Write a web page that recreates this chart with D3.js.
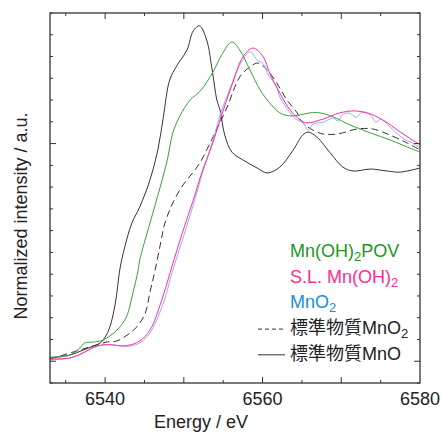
<!DOCTYPE html>
<html>
<head>
<meta charset="utf-8">
<script src="https://cdn.jsdelivr.net/npm/d3@7"></script>
<style>
  body { margin: 0; background: #fff; }
  svg text { font-family: "Liberation Sans", Arial, "Noto Sans CJK JP", sans-serif; }
</style>
</head>
<body>
<div id="chart"></div>
<script>
// 标准物质 MnO (实线)
var stdMnOE = [6533.0, 6535.5, 6537.2, 6538.5, 6539.4, 6540.0, 6540.6, 6541.3, 6541.9, 6542.5, 6543.4, 6544.4, 6545.7, 6546.7, 6547.4, 6548.2, 6549.1, 6550.4, 6551.2, 6552.0, 6552.9, 6553.6, 6554.2, 6554.6, 6555.2, 6556.1, 6557.5, 6559.3, 6560.6, 6562.2, 6563.9, 6565.1, 6565.8, 6566.9, 6568.6, 6570.2, 6571.5, 6573.7, 6575.8, 6577.5, 6580.0];
var stdMnOI = [0.015, 0.028, 0.051, 0.070, 0.084, 0.111, 0.157, 0.267, 0.428, 0.525, 0.635, 0.709, 0.833, 0.971, 1.123, 1.292, 1.357, 1.430, 1.518, 1.541, 1.476, 1.338, 1.200, 1.154, 1.039, 0.961, 0.925, 0.888, 0.865, 0.892, 0.971, 1.039, 1.053, 1.030, 0.957, 0.892, 0.874, 0.883, 0.874, 0.869, 0.888];

// 标准物质 MnO2 (虚线)
var stdMnO2E = [6533.0, 6537.2, 6538.5, 6540.2, 6541.5, 6542.8, 6544.0, 6545.1, 6545.7, 6546.3, 6547.0, 6547.6, 6548.6, 6549.9, 6551.2, 6552.1, 6552.9, 6553.7, 6555.5, 6557.1, 6558.4, 6559.4, 6560.6, 6561.8, 6563.1, 6564.4, 6565.1, 6566.4, 6567.7, 6569.5, 6572.0, 6574.0, 6576.2, 6578.4, 6580.0];
var stdMnO2I = [0.010, 0.056, 0.070, 0.088, 0.093, 0.120, 0.157, 0.221, 0.318, 0.410, 0.534, 0.635, 0.727, 0.810, 0.869, 0.915, 0.971, 1.030, 1.168, 1.306, 1.352, 1.370, 1.338, 1.278, 1.200, 1.141, 1.095, 1.062, 1.044, 1.044, 1.067, 1.067, 1.039, 1.002, 0.971];

// MnO2 (浅蓝)
var mno2E = [6533.0, 6535.5, 6537.2, 6538.5, 6539.7, 6541.0, 6542.1, 6543.2, 6544.4, 6545.7, 6547.4, 6548.6, 6549.9, 6551.2, 6552.4, 6553.6, 6554.6, 6555.9, 6557.1, 6558.4, 6559.3, 6560.1, 6560.7, 6561.2, 6561.8, 6562.2, 6563.5, 6564.4, 6565.1, 6565.8, 6566.4, 6567.7, 6569.0, 6569.6, 6570.2, 6571.1, 6571.9, 6572.6, 6573.7, 6574.4, 6575.0, 6576.2, 6577.8, 6579.0, 6580.0];
var mno2I = [0.006, 0.015, 0.038, 0.061, 0.075, 0.075, 0.070, 0.070, 0.084, 0.130, 0.267, 0.419, 0.566, 0.718, 0.869, 1.003, 1.131, 1.256, 1.361, 1.421, 1.384, 1.366, 1.315, 1.292, 1.260, 1.214, 1.141, 1.108, 1.098, 1.062, 1.090, 1.098, 1.117, 1.103, 1.135, 1.139, 1.121, 1.144, 1.131, 1.098, 1.112, 1.076, 1.025, 1.003, 0.980];

// Mn(OH)2POV (绿)
var povE = [6533.0, 6535.5, 6536.8, 6537.4, 6538.5, 6539.7, 6541.5, 6542.7, 6543.5, 6544.2, 6544.4, 6545.7, 6547.0, 6547.9, 6548.6, 6549.5, 6550.8, 6552.1, 6553.7, 6554.8, 6556.1, 6557.1, 6558.4, 6559.7, 6560.9, 6562.2, 6563.5, 6564.8, 6566.0, 6567.3, 6569.0, 6571.1, 6573.7, 6576.2, 6578.4, 6580.0];
var povI = [0.019, 0.028, 0.061, 0.084, 0.088, 0.097, 0.143, 0.203, 0.309, 0.419, 0.465, 0.635, 0.801, 0.925, 1.049, 1.127, 1.200, 1.242, 1.329, 1.407, 1.467, 1.430, 1.338, 1.246, 1.187, 1.141, 1.127, 1.132, 1.141, 1.141, 1.122, 1.086, 1.049, 1.017, 0.984, 0.961];

// S.L. Mn(OH)2 (粉)
var slE = [6533.0, 6535.5, 6537.2, 6538.5, 6539.7, 6541.0, 6542.1, 6543.2, 6544.4, 6545.7, 6547.2, 6548.5, 6549.8, 6551.2, 6552.4, 6553.6, 6554.6, 6556.2, 6557.5, 6558.8, 6560.1, 6560.9, 6562.2, 6563.5, 6564.8, 6565.6, 6567.7, 6569.8, 6571.5, 6573.3, 6575.3, 6577.5, 6580.0];
var slI = [0.010, 0.015, 0.038, 0.065, 0.075, 0.075, 0.070, 0.075, 0.093, 0.143, 0.281, 0.437, 0.589, 0.741, 0.879, 0.994, 1.108, 1.278, 1.398, 1.439, 1.398, 1.324, 1.232, 1.154, 1.108, 1.095, 1.113, 1.141, 1.150, 1.141, 1.108, 1.053, 0.994];

var xLabelTicks = [6540, 6560, 6580];

var widthx = 442;//画布宽度
var heighty = 433;//画布高度
var margin = {top: 13, right: 22, bottom: 50, left: 50},
    width = widthx - margin.left - margin.right,
    height = heighty - margin.top - margin.bottom;

var x = d3.scaleLinear().domain([6533, 6580]).range([0, width]);
var y = d3.scaleLinear().domain([-0.1, 1.6]).range([height, 0]);

var svg = d3.select("#chart")
    .append("svg")
    .attr("width", widthx)
    .attr("height", heighty)
    .append("g")
    .attr("transform", "translate(" + margin.left + "," + margin.top + ")");

svg.append("clipPath").attr("id", "clip")
    .append("rect").attr("width", width).attr("height", height);

function zip(es, is) {
    return es.map(function(e, i) { return [e, is[i]]; });
}

var line = d3.line()
    .x(function(d) { return x(d[0]); })
    .y(function(d) { return y(d[1]); })
    .curve(d3.curveCatmullRom.alpha(0.5));

var series = [
    {data: zip(stdMnOE, stdMnOI), color: "#333", dash: null, w: 1},
    {data: zip(stdMnO2E, stdMnO2I), color: "#333", dash: "7,4", w: 1},
    {data: zip(mno2E, mno2I), color: "#a0a8ff", dash: null, w: 1},
    {data: zip(povE, povI), color: "#3aa03a", dash: null, w: 1},
    {data: zip(slE, slI), color: "#ff2d9a", dash: null, w: 1}
];

var plot = svg.append("g").attr("clip-path", "url(#clip)");
series.forEach(function(s) {
    plot.append("path")
        .datum(s.data)
        .attr("fill", "none")
        .attr("stroke", s.color)
        .attr("stroke-width", s.w)
        .attr("stroke-dasharray", s.dash)
        .attr("d", line);
});

// 刻度 (向内)
var xt = d3.range(6535, 6580, 5);
var yt = d3.range(-0.1, 1.601, 0.1).map(function(v) { return Math.round(v * 10) / 10; });
var ticks = svg.append("g").attr("stroke", "#333").attr("stroke-width", 1);
xt.forEach(function(v) {
    var len = (v % 10 === 0) ? 6 : 3;
    ticks.append("line").attr("x1", x(v)).attr("x2", x(v)).attr("y1", height).attr("y2", height - len);
    ticks.append("line").attr("x1", x(v)).attr("x2", x(v)).attr("y1", 0).attr("y2", len);
});
yt.forEach(function(v) {
    var len = (v === 0 || v === 1) ? 6 : 3;
    ticks.append("line").attr("x1", 0).attr("x2", len).attr("y1", y(v)).attr("y2", y(v));
    ticks.append("line").attr("x1", width).attr("x2", width - len).attr("y1", y(v)).attr("y2", y(v));
});

svg.append("rect")
    .attr("width", width).attr("height", height)
    .attr("fill", "none").attr("stroke", "#333").attr("stroke-width", 1.3);

svg.selectAll(".xlab")
    .data(xLabelTicks)
    .enter().append("text")
    .attr("x", function(d) { return x(d); })
    .attr("y", height + 22)
    .attr("text-anchor", "middle")
    .attr("font-size", 18)
    .attr("fill", "#222")
    .text(function(d) { return d; });

svg.append("text")
    .attr("x", 201 - margin.left)
    .attr("y", 428 - margin.top)
    .attr("text-anchor", "middle")
    .attr("font-size", 18)
    .attr("fill", "#222")
    .text("Energy / eV");

svg.append("text")
    .attr("transform", "translate(" + (27 - margin.left) + "," + (216 - margin.top) + ") rotate(-90)")
    .attr("text-anchor", "middle")
    .attr("font-size", 18)
    .attr("fill", "#222")
    .text("Normalized intensity / a.u.");

// 图例
var legend = [
    {parts: [["Mn(OH)", 0], ["2", 1], ["POV", 0]], color: "#1e961e", dash: undefined},
    {parts: [["S.L. Mn(OH)", 0], ["2", 1]], color: "#ff2d8f", dash: undefined},
    {parts: [["MnO", 0], ["2", 1]], color: "#1b8ed8", dash: undefined},
    {parts: [["標準物質MnO", 0], ["2", 1]], color: "#222", dash: "4,3"},
    {parts: [["標準物質MnO", 0]], color: "#222", dash: null}
];
legend.forEach(function(l, i) {
    var by = 257 + i * 25.7 - margin.top;
    var t = svg.append("text")
        .attr("x", 290 - margin.left)
        .attr("y", by)
        .attr("font-size", 18)
        .attr("fill", l.color);
    var sub = false;
    l.parts.forEach(function(p) {
        var ts = t.append("tspan").text(p[0]);
        if (p[1] && !sub) { ts.attr("font-size", 13).attr("dy", 4); sub = true; }
        else if (!p[1] && sub) { ts.attr("dy", -4); sub = false; }
    });
    if (l.dash !== undefined) {
        svg.append("line")
            .attr("x1", 258 - margin.left).attr("x2", 285 - margin.left)
            .attr("y1", by - 5).attr("y2", by - 5)
            .attr("stroke", "#333").attr("stroke-width", 1)
            .attr("stroke-dasharray", l.dash);
    }
});
</script>
</body>
</html>
